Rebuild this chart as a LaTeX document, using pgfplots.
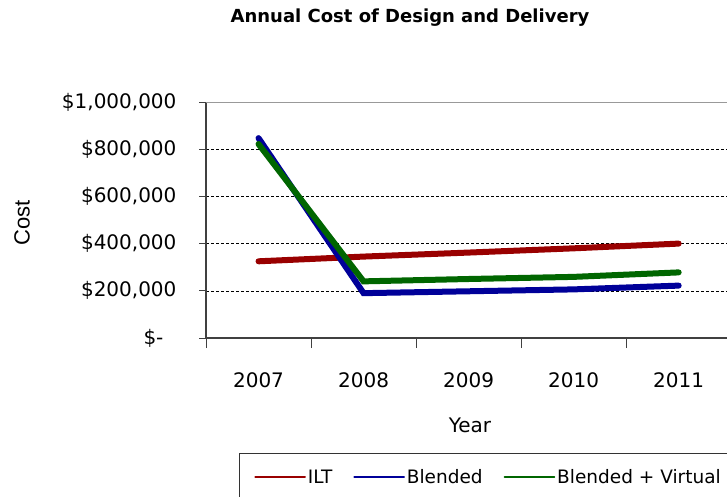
\documentclass[border=0pt]{standalone}
\usepackage{fontspec}
\setmainfont{DejaVu Sans}
\newfontfamily\labelfont{Liberation Sans}
\usepackage{pgfplots}
\usepackage{pgfplotstable}
\pgfplotsset{compat=1.18}

\definecolor{iltred}{RGB}{153,0,0}
\definecolor{blendblue}{RGB}{0,0,153}
\definecolor{virtgreen}{RGB}{0,102,0}

% yearly cost per delivery mode, x = 0..4 for 2007..2011
\pgfplotstableread{
x ilt    blended virtual
0 325000 847000  822000
1 345000 190000  240000
2 362000 198000  250000
3 380000 206000  259000
4 400000 222000  278000
}\costdata

\begin{document}
\begin{tikzpicture}
\useasboundingbox (0,0) rectangle (727pt,496pt);
\begin{axis}[
  at={(206pt,158pt)}, anchor=south west,
  scale only axis, width=521pt, height=236pt,
  xmin=-0.5, xmax=4.46, ymin=0, ymax=1000000,
  axis x line*=bottom, axis y line*=left,
  axis line style={-, draw=black!75, line width=1.2pt},
  tick align=outside,
  xtick={0,1,2,3,4},
  xticklabels={2007,2008,2009,2010,2011},
  minor xtick={-0.5,0.5,1.5,2.5,3.5},
  major x tick style={draw=none},
  minor tick length=10pt, major tick length=7pt,
  ytick={0,200000,400000,600000,800000,1000000},
  yticklabels={{\$-\hspace*{13pt}},{\$200,000},{\$400,000},{\$600,000},{\$800,000},{\$1,000,000}},
  scaled y ticks=false,
  ymajorgrids,
  grid style={black, line width=0.6pt, dash pattern=on 3pt off 2pt},
  tick style={black!75, line width=1pt},
  ticklabel style={font=\fontsize{20}{24}\selectfont},
  yticklabel style={xshift=-19pt},
  xticklabel style={yshift=-24pt},
  legend columns=3,
  legend image code/.code={\draw[#1, line width=1.5pt] (0pt,0pt) -- (50pt,0pt);},
  legend style={at={(axis description cs:0.0633,-0.487)}, anchor=north west,
    draw=black!80, line width=0.8pt, font=\fontsize{18.5}{22}\selectfont,
    inner xsep=15pt, inner ysep=14pt,
    /tikz/every odd column/.append style={inner xsep=2pt},
    /tikz/every even column/.append style={column sep=19pt}},
]
\addplot[iltred, line width=6pt, line cap=round] table[x=x, y=ilt]{\costdata};
\addplot[blendblue, line width=6pt, line cap=round] table[x=x, y=blended]{\costdata};
\addplot[virtgreen, line width=6pt, line cap=round] table[x=x, y=virtual]{\costdata};
\legend{ILT,Blended,Blended + Virtual}
\draw[black!40, line width=2pt] (rel axis cs:0,1) -- (rel axis cs:1,1);
\end{axis}
\node[font=\bfseries\fontsize{18}{22}\selectfont] at (410pt,478pt) {Annual Cost of Design and Delivery};
\node[rotate=90, font=\labelfont\fontsize{22}{26}\selectfont] at (22pt,273pt) {Cost};
\node[font=\fontsize{20}{24}\selectfont] at (470pt,71pt) {Year};
\end{tikzpicture}
\end{document}
